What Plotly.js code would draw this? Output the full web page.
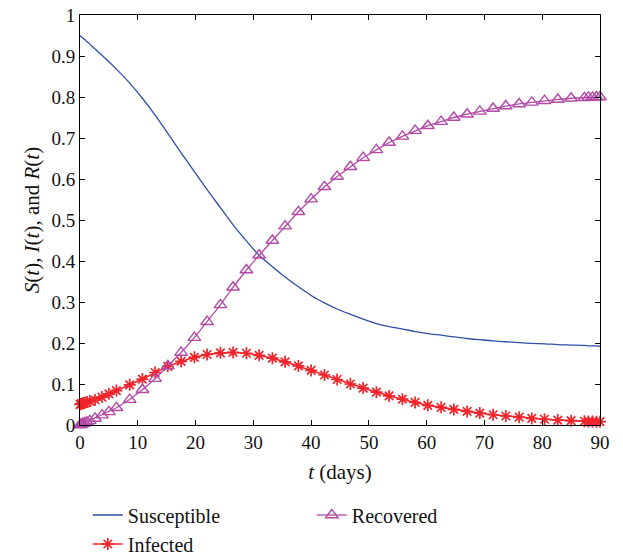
<!DOCTYPE html>
<html>
<head>
<meta charset="utf-8">
<script src="https://cdn.plot.ly/plotly-3.0.1.min.js"></script>
<style>body{margin:0;padding:0;background:#fff;} #chart{width:623px;height:558px;}</style>
</head>
<body>
<div id="chart"></div>
<script>
var tDays = [0, 0.15, 0.3, 0.5, 0.8, 1.2, 1.7, 2.6, 3.8, 5.0, 6.3, 8.6, 10.8, 13.0, 15.2, 17.5, 19.8, 22.0, 24.3, 26.5, 28.8, 31.0, 33.3, 35.5, 37.8, 40.0, 42.3, 44.5, 46.8, 49.0, 51.3, 53.5, 55.8, 58.0, 60.2, 62.5, 64.7, 67.0, 69.2, 71.5, 73.7, 76.0, 78.2, 80.4, 82.7, 85.0, 87.3, 88.0, 88.7, 89.4, 90];

var susceptible = [0.950, 0.948, 0.946, 0.944, 0.940, 0.935, 0.929, 0.917, 0.902, 0.886, 0.868, 0.834, 0.797, 0.756, 0.711, 0.664, 0.618, 0.574, 0.530, 0.488, 0.449, 0.414, 0.386, 0.361, 0.337, 0.316, 0.298, 0.283, 0.270, 0.258, 0.247, 0.240, 0.234, 0.228, 0.223, 0.219, 0.215, 0.211, 0.208, 0.205, 0.203, 0.201, 0.199, 0.198, 0.196, 0.195, 0.194, 0.193, 0.193, 0.193, 0.192];

var infected = [0.050, 0.051, 0.052, 0.053, 0.054, 0.056, 0.058, 0.061, 0.068, 0.076, 0.084, 0.098, 0.112, 0.128, 0.143, 0.155, 0.165, 0.172, 0.176, 0.177, 0.175, 0.170, 0.163, 0.154, 0.144, 0.133, 0.122, 0.111, 0.100, 0.090, 0.080, 0.071, 0.063, 0.055, 0.048, 0.043, 0.038, 0.033, 0.029, 0.025, 0.022, 0.019, 0.016, 0.014, 0.012, 0.0105, 0.0092, 0.0088, 0.0085, 0.0082, 0.008];

var recovered = [0, 0.001, 0.002, 0.003, 0.005, 0.007, 0.010, 0.016, 0.024, 0.032, 0.042, 0.062, 0.086, 0.113, 0.144, 0.177, 0.213, 0.252, 0.293, 0.336, 0.378, 0.414, 0.450, 0.485, 0.520, 0.551, 0.581, 0.606, 0.630, 0.652, 0.671, 0.689, 0.704, 0.718, 0.730, 0.740, 0.750, 0.758, 0.765, 0.772, 0.778, 0.783, 0.787, 0.791, 0.794, 0.797, 0.798, 0.799, 0.799, 0.800, 0.800];

var xTicks = [0, 10, 20, 30, 40, 50, 60, 70, 80, 90];
var yTicks = [0, 0.1, 0.2, 0.3, 0.4, 0.5, 0.6, 0.7, 0.8, 0.9, 1];

var serif = '"Liberation Serif", "DejaVu Serif", serif';

var traces = [
  {x: tDays, y: susceptible, name: 'Susceptible', mode: 'lines', legendrank: 1,
   line: {color: '#2f4fa6', width: 1.3, shape: 'spline', smoothing: 0.8}, cliponaxis: false},
  {x: tDays, y: infected, name: 'Infected', mode: 'lines+markers', legendrank: 3,
   line: {color: '#f0242a', width: 1.6},
   marker: {symbol: 'asterisk-open', size: 10, color: '#f0242a', line: {color: '#f0242a', width: 1.7}},
   cliponaxis: false},
  {x: tDays, y: recovered, name: 'Recovered', mode: 'lines+markers', legendrank: 2,
   line: {color: '#b24aa6', width: 1.3},
   marker: {symbol: 'triangle-up-open', size: 11, color: '#b24aa6', line: {color: '#b24aa6', width: 1.4}},
   cliponaxis: false}
];

var layout = {
  width: 623, height: 558,
  margin: {l: 80, r: 23, t: 15, b: 133, autoexpand: false},
  paper_bgcolor: '#fff', plot_bgcolor: '#fff',
  font: {family: serif, size: 19, color: '#111'},
  showlegend: true,
  legend: {
    orientation: 'h', x: 0.015, xanchor: 'left', y: -0.172, yanchor: 'top',
    entrywidth: 179, entrywidthmode: 'pixels',
    font: {family: serif, size: 20, color: '#111'},
    bgcolor: 'rgba(0,0,0,0)', traceorder: 'normal'
  },
  xaxis: {
    range: [0, 90], tickmode: 'array', tickvals: xTicks,
    ticks: 'inside', ticklen: 5, tickcolor: '#000', tickwidth: 1,
    showline: true, linecolor: '#000', linewidth: 1, mirror: 'ticks',
    showgrid: false, zeroline: false,
    tickfont: {family: serif, size: 19, color: '#111'},
    title: {text: '<i>t</i> (days)', font: {family: serif, size: 21, color: '#111'}, standoff: 12}
  },
  yaxis: {
    range: [0, 1], tickmode: 'array', tickvals: yTicks,
    ticks: 'inside', ticklen: 5, tickcolor: '#000', tickwidth: 1,
    showline: true, linecolor: '#000', linewidth: 1, mirror: 'ticks',
    showgrid: false, zeroline: false,
    tickfont: {family: serif, size: 19, color: '#111'},
    title: {text: '<i>S</i>(<i>t</i>), <i>I</i>(<i>t</i>), and <i>R</i>(<i>t</i>)', font: {family: serif, size: 21, color: '#111'}, standoff: 6}
  }
};

Plotly.newPlot('chart', traces, layout, {displayModeBar: false, staticPlot: true});
</script>
</body>
</html>
